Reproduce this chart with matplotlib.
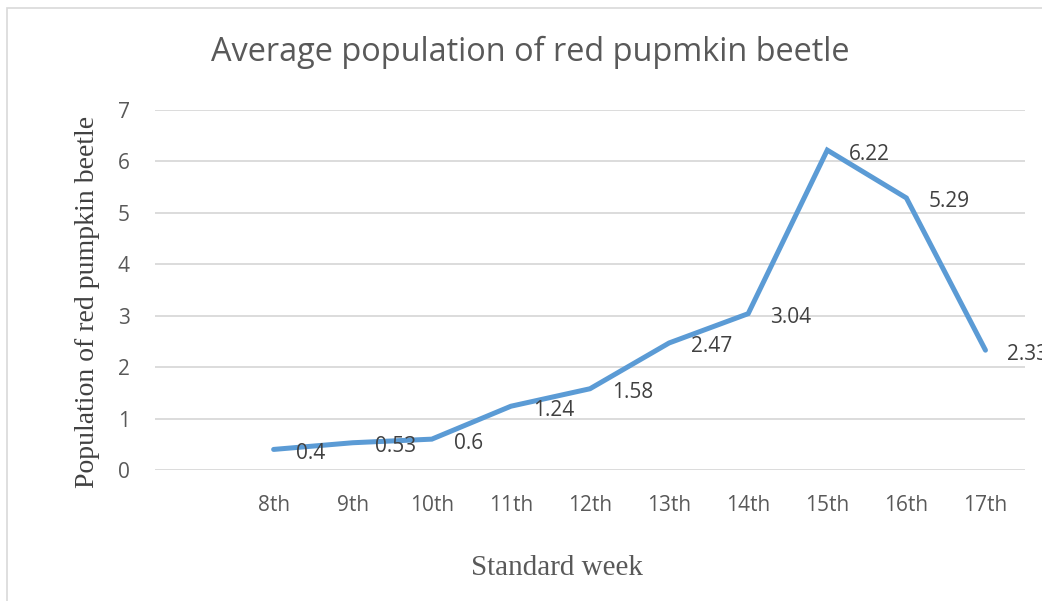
import matplotlib
matplotlib.use("Agg")
import matplotlib.pyplot as plt
from matplotlib.patches import Rectangle

# Weekly averages of red pumpkin beetle
weeks = ["", "8th", "9th", "10th", "11th", "12th", "13th", "14th", "15th", "16th", "17th"]
week_values = [0.4, 0.53, 0.6, 1.24, 1.58, 2.47, 3.04, 6.22, 5.29, 2.33]
y_ticks = [0, 1, 2, 3, 4, 5, 6, 7]

W, H = 1042, 601
fig = plt.figure(figsize=(W / 100, H / 100), dpi=100)
fig.patch.set_facecolor("white")

# chart-area border
fig.patches.append(Rectangle((7 / W, -0.05), 1.2, 1 - 8 / H + 0.05,
                             transform=fig.transFigure, fill=False,
                             edgecolor="#D9D9D9", linewidth=1.2))

ax = fig.add_axes([155 / W, (H - 470) / H, 870 / W, 360 / H])
ax.set_xlim(-0.5, len(weeks) - 0.5)
ax.set_ylim(0, 7)

x = list(range(1, len(weeks)))
ax.plot(x, week_values, color="#5B9BD5", linewidth=3.6, solid_capstyle="round",
        solid_joinstyle="miter", zorder=3, clip_on=False)

for xi, v in zip(x, week_values):
    ax.annotate(f"{v:g}", (xi, v), xytext=(22, -4), textcoords="offset pixels",
                ha="left", va="center", fontsize=15, color="#404040",
                family="Open Sans", annotation_clip=False, clip_on=False)

ax.set_yticks(y_ticks)
ax.set_xticks(range(len(weeks)))
ax.set_xticklabels(weeks)
ax.grid(axis="y", color="#D9D9D9", linewidth=1.3)
ax.set_axisbelow(True)
for s in ax.spines.values():
    s.set_visible(False)
ax.tick_params(length=0, labelsize=15, labelcolor="#595959")
for lbl in ax.get_xticklabels() + ax.get_yticklabels():
    lbl.set_family("Open Sans")
ax.tick_params(axis="y", pad=18)
ax.tick_params(axis="x", pad=18)

fig.text(88 / W, 1 - 302 / H, "Population of red pumpkin beetle",
         rotation=90, ha="center", va="center", family="Liberation Serif",
         fontsize=20, color="#404040")
fig.text(557 / W, 1 - 568 / H, "Standard week", ha="center", va="center",
         family="Liberation Serif", fontsize=21, color="#595959")

fig.text(530 / W, 1 - 52 / H, "Average population of red pupmkin beetle",
         ha="center", va="center", fontsize=23.4, color="#595959",
         family="Open Sans")

fig.savefig("out.png", dpi=100)
